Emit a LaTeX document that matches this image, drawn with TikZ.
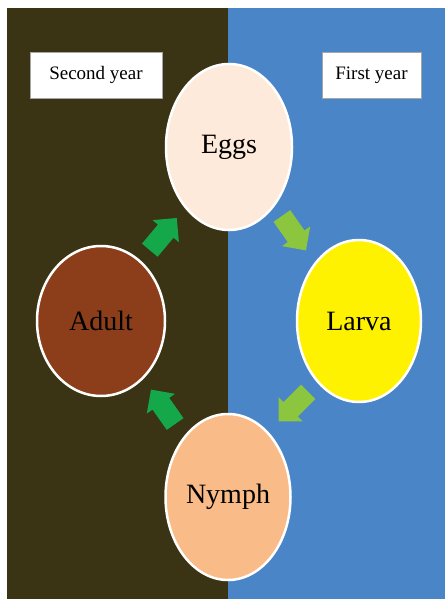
\documentclass[tikz,border=0pt]{standalone}
\usepackage{fontspec}
\setmainfont{Liberation Serif}
\usetikzlibrary{shapes.geometric,shapes.arrows}
\definecolor{bgdark}{HTML}{3A3415}
\definecolor{bgblue}{HTML}{4A85C7}
\definecolor{eggcol}{HTML}{FDEADA}
\definecolor{adultcol}{HTML}{8B3E19}
\definecolor{larvacol}{HTML}{FFF200}
\definecolor{nymphcol}{HTML}{F9BB87}
\definecolor{greendk}{HTML}{14A84A}
\definecolor{greenlt}{HTML}{8CC63F}
\begin{document}
\begin{tikzpicture}[x=1pt, y=-1pt]
   \tikzstyle{stage} = [ellipse, draw=white, line width=2.5pt,
                        inner sep=0pt, font=\fontsize{28}{32}\selectfont];
   \tikzstyle{yearbox} = [rectangle, draw=gray!70, fill=white,
                          minimum height=46pt, inner sep=0pt,
                          font=\fontsize{19}{22}\selectfont];
   \tikzstyle{blk} = [single arrow, inner xsep=0pt, inner ysep=10pt,
                      minimum height=42pt, single arrow head extend=7pt];

   \useasboundingbox (0,0) rectangle (445,599);
   \fill[bgdark] (7,8) rectangle (228,599);
   \fill[bgblue] (228,8) rectangle (445,599);

    \node[yearbox, minimum width=132pt] (sy) at (96,75) {Second year};
    \node[yearbox, minimum width=99pt] (fy) at (371.5,75) {First year};

    \node[stage, fill=eggcol, minimum width=126pt,
          minimum height=166pt] (eggs) at (229,147) {Eggs};
    \node[stage, fill=larvacol, minimum width=124pt,
          minimum height=162pt] (larva) at (359,321) {Larva};
    \node[stage, fill=nymphcol, minimum width=125pt,
          minimum height=166pt] (nymph) at (228,497) {Nymph};
    \node[stage, fill=adultcol, minimum width=128pt,
          minimum height=150pt] (adult) at (101,321) {Adult};

    %% block arrows of the cycle
    \node[blk, fill=greenlt, rotate=-55] (a1) at (291,229) {};
    \node[blk, fill=greenlt, rotate=-135] (a2) at (297,403) {};
    \node[blk, fill=greendk, rotate=125] (a3) at (166,411) {};
    \node[blk, fill=greendk, rotate=50] (a4) at (160,238) {};

  \end{tikzpicture}
\end{document}
